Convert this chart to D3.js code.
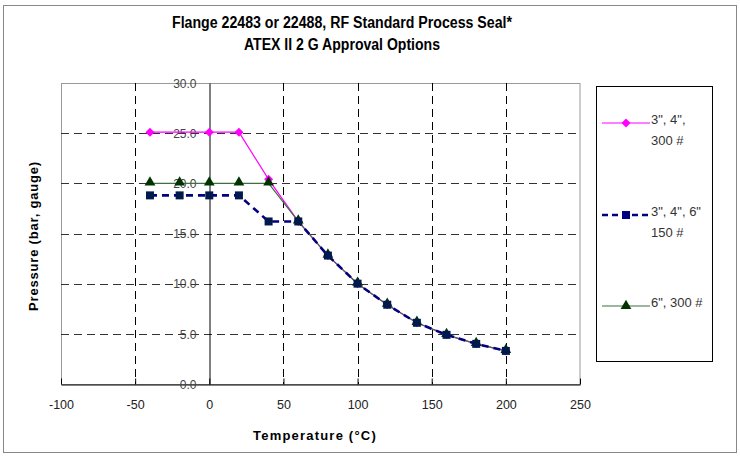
<!DOCTYPE html>
<html><head><meta charset="utf-8">
<script src="https://cdn.jsdelivr.net/npm/d3@7"></script>
<style>body{margin:0;background:#fff}svg{display:block}text{font-family:"Liberation Sans",Arial,sans-serif}</style>
</head><body><svg id="c" width="740" height="456"></svg>
<script>
const titleLines = ["Flange 22483 or 22488, RF Standard Process Seal*", "ATEX II 2 G Approval Options"];
const xTicks = [-100, -50, 0, 50, 100, 150, 200, 250];
const yTicks = [0, 5, 10, 15, 20, 25, 30];
const tempMagenta = [-40, 0, 20, 40, 60, 80, 100, 120, 140, 160, 180, 200];
const pressMagenta = [25.1, 25.1, 25.1, 20.4, 16.2, 12.8, 10.0, 7.9, 6.1, 4.9, 4.0, 3.3];
const tempBlue = [-40, -20, 0, 20, 40, 60, 80, 100, 120, 140, 160, 180, 200];
const pressBlue = [18.8, 18.8, 18.8, 18.8, 16.2, 16.2, 12.8, 10.0, 7.9, 6.1, 4.9, 4.0, 3.3];
const tempGreen = [-40, -20, 0, 20, 40, 60, 80, 100, 120, 140, 160, 180, 200];
const pressGreen = [20.0, 20.0, 20.0, 20.0, 20.0, 16.2, 12.8, 10.0, 7.9, 6.1, 4.9, 4.0, 3.3];
const seriesNames = [["3\", 4\",", "300 #"], ["3\", 4\", 6\"", "150 #"], ["6\", 300 #"]];

const svg = d3.select("#c");
const x = d3.scaleLinear().domain([-100, 250]).range([61, 580]);
const y = d3.scaleLinear().domain([0, 30]).range([384, 83]);

// outer border
svg.append("rect").attr("x", 3.5).attr("y", 5.5).attr("width", 733).attr("height", 447)
  .attr("fill", "#fff").attr("stroke", "#888").attr("stroke-width", 1);

// title
const titleLen = [340, 196];
svg.selectAll(".title").data(titleLines).join("text")
  .attr("x", 342).attr("y", (d, i) => 28 + i * 22)
  .attr("text-anchor", "middle").attr("font-size", 16).attr("font-weight", "bold")
  .attr("textLength", (d, i) => titleLen[i]).attr("lengthAdjust", "spacingAndGlyphs")
  .attr("fill", "#000").text(d => d);

// plot area border
svg.append("rect").attr("x", 61.5).attr("y", 83.5).attr("width", 518.5).attr("height", 301)
  .attr("fill", "none").attr("stroke", "#999");

// gridlines
const g = svg.append("g");
g.selectAll(".vg").data(xTicks.filter(t => t !== 0 && t !== -100 && t !== 250)).join("line")
  .attr("x1", d => Math.round(x(d)) + 0.5).attr("x2", d => Math.round(x(d)) + 0.5)
  .attr("y1", 83).attr("y2", 384).attr("stroke", "#000").attr("stroke-dasharray", "8,5");
g.selectAll(".hg").data(yTicks.filter(t => t !== 0 && t !== 30)).join("line")
  .attr("y1", d => Math.round(y(d)) + 0.5).attr("y2", d => Math.round(y(d)) + 0.5)
  .attr("x1", 61).attr("x2", 580).attr("stroke", "#333").attr("stroke-dasharray", "8,5");

// x axis
const xAxis = svg.append("g").attr("transform", "translate(0,384.5)")
  .call(d3.axisBottom(x).tickValues(xTicks).tickSizeInner(-6).tickSizeOuter(0).tickPadding(16).tickFormat(d => String(d)));
xAxis.select(".domain").attr("stroke", "#000");
xAxis.selectAll("line").attr("stroke", "#000");
xAxis.selectAll("text").attr("font-size", 12.5).attr("fill", "#222").attr("font-family", "Liberation Sans, Arial, sans-serif");

// y axis at x=0
const yAxis = svg.append("g").attr("transform", `translate(${Math.round(x(0)) + 0.5},0)`)
  .call(d3.axisLeft(y).tickValues(yTicks).tickSize(0).tickPadding(13).tickFormat(d3.format(".1f")));
yAxis.select(".domain").attr("stroke", "#000");
yAxis.selectAll("text").attr("font-size", 12).attr("fill", "#444").attr("dy", "0.35em").attr("font-family", "Liberation Sans, Arial, sans-serif");

// axis titles
svg.append("text").attr("x", 315).attr("y", 440).attr("text-anchor", "middle")
  .attr("font-size", 13).attr("font-weight", "bold").attr("letter-spacing", 1.2).text("Temperature (°C)");
svg.append("text").attr("transform", "translate(38,236) rotate(-90)").attr("text-anchor", "middle")
  .attr("font-size", 13).attr("font-weight", "bold").attr("letter-spacing", 0.8).text("Pressure (bar, gauge)");

const line = d3.line().x(d => x(d[0])).y(d => y(d[1]));
const zip = (a, b) => a.map((v, i) => [v, b[i]]);
const mag = zip(tempMagenta, pressMagenta), blu = zip(tempBlue, pressBlue), grn = zip(tempGreen, pressGreen);

const diamond = "M0,-4.5L4.5,0L0,4.5L-4.5,0Z";
const square = d3.symbol().type(d3.symbolSquare).size(64);
const tri = d3.symbol().type(d3.symbolTriangle).size(50);

// magenta
svg.append("path").datum(mag).attr("d", line).attr("fill", "none").attr("stroke", "#ff00ff").attr("stroke-width", 1.2);
svg.selectAll(".mm").data(mag).join("path").attr("d", diamond)
  .attr("transform", d => `translate(${x(d[0])},${y(d[1])})`).attr("fill", "#ff00ff");
// green
svg.append("path").datum(grn).attr("d", line).attr("fill", "none").attr("stroke", "#3f6f3f").attr("stroke-width", 1.2);
svg.selectAll(".gm").data(grn).join("path").attr("d", tri)
  .attr("transform", d => `translate(${x(d[0])},${y(d[1]) - 1})`).attr("fill", "#003300");
// blue
svg.append("path").datum(blu).attr("d", line).attr("fill", "none").attr("stroke", "#000080").attr("stroke-width", 2.6).attr("stroke-dasharray", "7,5");
svg.selectAll(".bm").data(blu).join("path").attr("d", square)
  .attr("transform", d => `translate(${x(d[0])},${y(d[1])})`).attr("fill", "#001a4d");

// legend
svg.append("rect").attr("x", 596.5).attr("y", 86.5).attr("width", 116).attr("height", 275)
  .attr("fill", "#fff").attr("stroke", "#000");
const legY = [123, 215, 306];
const styles = [
  {stroke: "#ff00ff", w: 1.2, dash: null, sym: diamond, fill: "#ff00ff"},
  {stroke: "#000080", w: 2.6, dash: "6,4", sym: square, fill: "#000080"},
  {stroke: "#3f6f3f", w: 1.2, dash: null, sym: tri, fill: "#003300"}
];
seriesNames.forEach((names, i) => {
  const s = styles[i], yy = legY[i];
  svg.append("line").attr("x1", 602).attr("x2", 650).attr("y1", yy).attr("y2", yy)
    .attr("stroke", s.stroke).attr("stroke-width", s.w).attr("stroke-dasharray", s.dash);
  svg.append("path").attr("d", s.sym).attr("transform", `translate(626,${yy})`).attr("fill", s.fill);
  names.forEach((t, j) => {
    svg.append("text").attr("x", 651).attr("y", yy + 1 + j * 21).attr("font-size", 13)
      .attr("fill", "#333").text(t);
  });
});
</script></body></html>
